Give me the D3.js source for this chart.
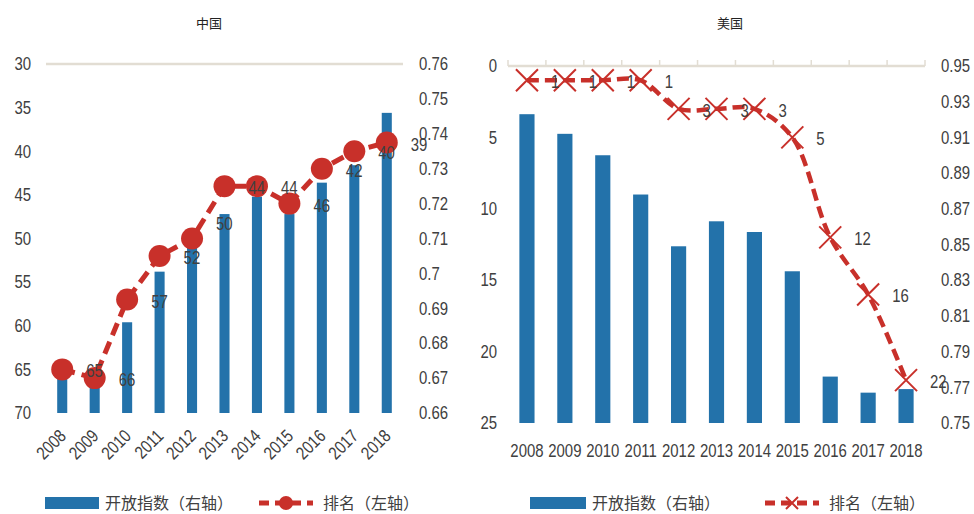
<!DOCTYPE html>
<html>
<head>
<meta charset="utf-8">
<script src="https://cdn.jsdelivr.net/npm/d3@7/dist/d3.min.js"></script>
<style>
  body { margin: 0; background: #fff; }
  svg text { font-family: "Liberation Sans", Arial, sans-serif; fill: #404040; }
  .cjk { font-family: "Noto Sans CJK SC", sans-serif; }
  .narrow { transform-box: fill-box; }
</style>
</head>
<body>
<svg id="chart"></svg>
<script>
// data
var years = ["2008","2009","2010","2011","2012","2013","2014","2015","2016","2017","2018"];

var chinaIndex = [0.6705, 0.668, 0.686, 0.7005, 0.709, 0.717, 0.722, 0.717, 0.726, 0.731, 0.746];
var chinaRank  = [65, 66, 57, 52, 50, 44, 44, 46, 42, 40, 39];

var usIndex = [0.923, 0.912, 0.900, 0.878, 0.849, 0.863, 0.857, 0.835, 0.776, 0.767, 0.769];
var usRank  = [1, 1, 1, 1, 3, 3, 3, 5, 12, 16, 22];

var chinaRankTicks  = [30, 35, 40, 45, 50, 55, 60, 65, 70];
var chinaIndexTicks = [0.66, 0.67, 0.68, 0.69, 0.7, 0.71, 0.72, 0.73, 0.74, 0.75, 0.76];
var usRankTicks  = [0, 5, 10, 15, 20, 25];
var usIndexTicks = [0.75, 0.77, 0.79, 0.81, 0.83, 0.85, 0.87, 0.89, 0.91, 0.93, 0.95];

var titles = ["中国", "美国"];
var legendBar = "开放指数（右轴）";
var legendLine = "排名（左轴）";

var blue = "#2372aa", red = "#c8302a", gridCol = "#e2ddd3";
var squeeze = 0.83;   // the original font is a narrow one

var svg = d3.select("#chart").attr("width", 974).attr("height", 514);

// squeeze text horizontally around its anchor
var narrow = function(sel, origin)
{
    sel.classed("narrow", true)
       .style("transform-origin", origin + " center")
       .style("transform", "scaleX(" + squeeze + ")");
}

var drawPanel = function(p)
{
    var g = svg.append("g");

    var x = d3.scaleBand().domain(years).range([p.left, p.right]).paddingInner(p.pad).paddingOuter(p.pad / 2);
    var xc = function(d) { return x(d) + x.bandwidth() / 2; };
    var step = x.step();
    var yRank = d3.scaleLinear().domain(p.rankDomain).range([p.top, p.bottom]);
    var yIdx = d3.scaleLinear().domain(p.idxDomain).range([p.bottom, p.top]);

    // title
    g.append("text").attr("class", "cjk")
        .attr("x", p.titleX).attr("y", 28)
        .attr("text-anchor", "middle").style("font-size", "13px").style("fill", "#222")
        .text(p.title);

    // top line (category axis crossing)
    g.append("line")
        .attr("x1", p.left).attr("x2", p.right)
        .attr("y1", p.top).attr("y2", p.top)
        .attr("stroke", gridCol).attr("stroke-width", 2.5);
    if (p.topTicks) {
        g.selectAll(".tt").data(d3.range(years.length + 1)).enter()
            .append("line")
            .attr("x1", function(i) { return p.left + i * step; })
            .attr("x2", function(i) { return p.left + i * step; })
            .attr("y1", p.top).attr("y2", p.top - 6)
            .attr("stroke", gridCol).attr("stroke-width", 1.5);
    }

    // left axis (rank)
    var la = d3.axisLeft(yRank).tickValues(p.rankTicks).tickSize(0).tickPadding(0);
    var gl = g.append("g").attr("transform", "translate(" + p.leftLabelX + ",0)").call(la);
    gl.select(".domain").remove();
    gl.selectAll("text").style("font-size", "18px").style("font-family", null).attr("fill", "#404040")
        .call(narrow, "right");

    // right axis (index)
    var ra = d3.axisRight(yIdx).tickValues(p.idxTicks).tickSize(0).tickPadding(0)
        .tickFormat(function(d) { return String(+d.toFixed(2)); });
    var gr = g.append("g").attr("transform", "translate(" + p.rightLabelX + ",0)").call(ra);
    gr.select(".domain").remove();
    gr.selectAll("text").style("font-size", "18px").style("font-family", null).attr("fill", "#404040")
        .call(narrow, "left");

    // bars
    g.selectAll(".bar").data(p.idx).enter()
        .append("rect")
        .attr("x", function(d, i) { return x(years[i]); })
        .attr("width", x.bandwidth())
        .attr("y", function(d) { return yIdx(d); })
        .attr("height", function(d) { return p.bottom - yIdx(d); })
        .attr("fill", blue);

    // x labels
    var xl = g.selectAll(".xl").data(years).enter().append("text")
        .style("font-size", "18px")
        .text(function(d) { return d; });
    if (p.rotate) {
        xl.attr("text-anchor", "end")
          .attr("transform", function(d) {
              return "translate(" + (xc(d) + 5) + "," + (p.bottom + 24) + ") rotate(-45) scale(" + squeeze + ",1)";
          });
    } else {
        xl.attr("text-anchor", "middle")
          .attr("x", xc).attr("y", p.bottom + 34)
          .call(narrow, "center");
    }

    // rank line
    var pts = p.rank.map(function(r, i) { return [xc(years[i]), yRank(r)]; });
    var line = d3.line().curve(p.smooth ? d3.curveCatmullRom.alpha(0.5) : d3.curveLinear);
    g.append("path").attr("d", line(pts))
        .attr("fill", "none").attr("stroke", red)
        .attr("stroke-width", p.smooth ? 4.5 : 5)
        .attr("stroke-dasharray", p.smooth ? "12,6" : "13,7");

    // markers
    if (p.marker === "circle") {
        g.selectAll(".mk").data(pts).enter().append("circle")
            .attr("cx", function(d) { return d[0]; }).attr("cy", function(d) { return d[1]; })
            .attr("r", 11).attr("fill", red);
    } else {
        g.selectAll(".mk").data(pts).enter().append("path")
            .attr("d", function(d) {
                var s = 11;
                return "M" + (d[0] - s) + "," + (d[1] - s) + "L" + (d[0] + s) + "," + (d[1] + s) +
                       "M" + (d[0] - s) + "," + (d[1] + s) + "L" + (d[0] + s) + "," + (d[1] - s);
            })
            .attr("stroke", red).attr("stroke-width", 2).attr("fill", "none");
    }

    // rank labels, to the right of each point
    g.selectAll(".rl").data(p.rank).enter().append("text")
        .attr("x", function(d, i) { return pts[i][0] + p.labelDx; })
        .attr("y", function(d, i) { return pts[i][1] + 8 + (p.nudge[i] || 0); })
        .style("font-size", "18px")
        .text(function(d) { return d; })
        .call(narrow, "left");

    // legend
    var ly = 503;
    g.append("rect").attr("x", p.legX).attr("y", ly - 6).attr("width", p.legW).attr("height", 12).attr("fill", blue);
    g.append("text").attr("class", "cjk").attr("x", p.legX + p.legW + 6).attr("y", ly + 6)
        .style("font-size", "16px").text(legendBar);
    var lx = p.legLineX;
    g.append("line").attr("x1", lx).attr("x2", lx + 54).attr("y1", ly).attr("y2", ly)
        .attr("stroke", red).attr("stroke-width", 5).attr("stroke-dasharray", "10,6");
    if (p.marker === "circle") {
        g.append("circle").attr("cx", lx + 27).attr("cy", ly).attr("r", 7).attr("fill", red);
    } else {
        g.append("path").attr("d", "M" + (lx + 21) + "," + (ly - 6) + "L" + (lx + 33) + "," + (ly + 6) +
                "M" + (lx + 21) + "," + (ly + 6) + "L" + (lx + 33) + "," + (ly - 6))
            .attr("stroke", red).attr("stroke-width", 2);
    }
    g.append("text").attr("class", "cjk").attr("x", lx + 64).attr("y", ly + 6)
        .style("font-size", "16px").text(legendLine);
}

drawPanel({
    title: titles[0], titleX: 209,
    left: 46, right: 403, top: 64, bottom: 413, pad: 0.69,
    rankDomain: [30, 70], idxDomain: [0.66, 0.76],
    rankTicks: chinaRankTicks, idxTicks: chinaIndexTicks,
    leftLabelX: 31, rightLabelX: 419,
    idx: chinaIndex, rank: chinaRank,
    marker: "circle", smooth: false, rotate: true, topTicks: false,
    labelDx: 24, nudge: {4: -16},
    legX: 45, legW: 54, legLineX: 259
});

drawPanel({
    title: titles[1], titleX: 730,
    left: 508, right: 925, top: 66, bottom: 423, pad: 0.6,
    rankDomain: [0, 25], idxDomain: [0.75, 0.95],
    rankTicks: usRankTicks, idxTicks: usIndexTicks,
    leftLabelX: 497, rightLabelX: 941,
    idx: usIndex, rank: usRank,
    marker: "x", smooth: true, rotate: false, topTicks: true,
    labelDx: 24, nudge: {},
    legX: 530, legW: 56, legLineX: 765
});
</script>
</body>
</html>
